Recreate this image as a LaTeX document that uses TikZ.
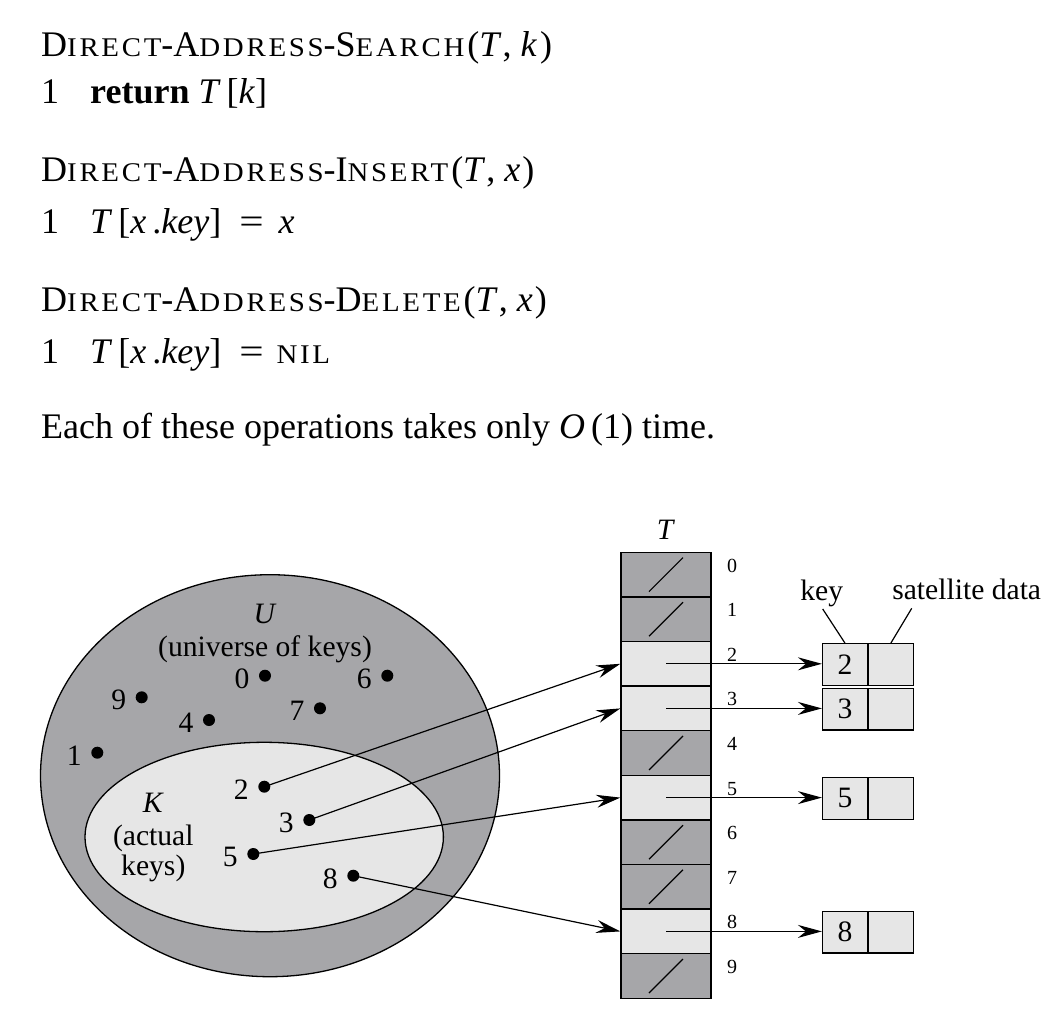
\documentclass[tikz,border=0pt]{standalone}
\usepackage{fontspec}
\setmainfont{Liberation Serif}
\usetikzlibrary{arrows.meta}
\definecolor{dgrey}{RGB}{166,166,169}
\definecolor{lgrey}{RGB}{230,230,230}
\newfontfamily\scfont[FakeStretch=1.07, LetterSpace=10]{Liberation Serif}
\newcommand\smc[1]{{\fontsize{27}{30}\scfont #1}}
\newcommand\bigtext{\fontsize{36}{40}\selectfont}
\newcommand\eqsign{\scalebox{1.2}[1]{=}}
\tikzset{
  txt/.style={anchor=base west, inner sep=0pt, font=\bigtext},
  dtxt/.style={inner sep=0pt, font=\fontsize{29.6}{33}\selectfont},
  idx/.style={anchor=base west, inner sep=0pt, font=\fontsize{20}{22}\selectfont},
  cellbox/.style={draw, line width=1.3pt, minimum width=90pt, minimum height=44.6pt, inner sep=0pt},
  nilcell/.style={cellbox, fill=dgrey},
  usedcell/.style={cellbox, fill=lgrey},
  keybox/.style={draw, line width=1.3pt, fill=lgrey, minimum width=44.7pt, minimum height=41.7pt, inner sep=0pt, font=\fontsize{29.6}{33}\selectfont},
  dot/.style={circle, fill=black, inner sep=0pt, minimum size=12pt},
  arr/.style={line width=1.2pt, -{Stealth[length=24pt, width=13pt, inset=8pt]}},
  thin/.style={line width=1.2pt}
}
\begin{document}
\begin{tikzpicture}[x=1pt, y=-1pt]
\useasboundingbox (0,0) rectangle (1048,1032);
% ---------- pseudocode ----------
\node[txt] (h1) at (41,56.7) {D\smc{IRECT}-A\smc{DDRESS}-S\smc{EARCH}\hspace{3pt}(\textit{T}\hspace{1pt},\hspace{9pt}\textit{k}\hspace{3pt})};
\node[txt] (l1n) at (41,103.5) {1};
\node[txt] (l1) at (90,103.5) {\textbf{return} \textit{T}\,[\textit{k}\/]};
\node[txt] (h2) at (41,182) {D\smc{IRECT}-A\smc{DDRESS}-I\smc{NSERT}\hspace{3pt}(\textit{T}\hspace{1pt},\hspace{9pt}\textit{x}\hspace{2pt})};
\node[txt] (l2n) at (41,233.5) {1};
\node[txt] (l2) at (90,233.5) {\textit{T}\,[\textit{x}\,.\textit{key}]\hspace{18pt}\eqsign\hspace{15pt}\textit{x}};
\node[txt] (h3) at (41,311.5) {D\smc{IRECT}-A\smc{DDRESS}-D\smc{ELETE}\hspace{3pt}(\textit{T}\hspace{1pt},\hspace{9pt}\textit{x}\hspace{2pt})};
\node[txt] (l3n) at (41,363) {1};
\node[txt] (l3) at (90,363) {\textit{T}\,[\textit{x}\,.\textit{key}]\hspace{18pt}\eqsign\hspace{13pt}\smc{NIL}};
\node[txt] (each) at (41,438.5) {Each of these operations takes only \textit{O}\,(1) time.};
% ---------- universe ----------
\draw[line width=1.3pt, fill=dgrey] (270,775.7) ellipse [x radius=229.5, y radius=201];
\draw[line width=1.3pt, fill=lgrey] (264.2,837) ellipse [x radius=179.2, y radius=94.7];
\node[dtxt, anchor=base] (U) at (265,623) {\textit{U}};
\node[dtxt, anchor=base] (Ut) at (265,656) {(universe of keys)};
\node[dtxt, anchor=base] (K) at (153.3,812.7) {\textit{K}};
\node[dtxt, anchor=base] (Kt1) at (153.3,845) {(actual};
\node[dtxt, anchor=base] (Kt2) at (153.3,875) {keys)};
\foreach \n/\x/\y in {0/265/675.7, 6/387.3/675.7, 9/141.7/697.3, 7/320/708.3, 4/209/720, 1/97.3/752.7, 2/264.3/786.7, 3/309.3/820, 5/253.3/854, 8/353.3/875.7}{
  \node[dot] (d\n) at (\x,\y) {};
  \node[dtxt, anchor=base] (dl\n) at (\x-23,\y+12.6) {\n};
}
% ---------- table ----------
\node[dtxt, anchor=base] (Tl) at (666,539) {\textit{T}};
\foreach \i/\s in {0/nilcell,1/nilcell,2/usedcell,3/usedcell,4/nilcell,5/usedcell,6/nilcell,7/nilcell,8/usedcell,9/nilcell}{
  \node[\s] (c\i) at (666,574.6+44.6*\i) {};
  \node[idx] (i\i) at (727,572.1+44.6*\i) {\i};
}
\foreach \i in {0,1,4,6,7,9}{
  \draw[thin] ([shift={(-17,17)}]c\i.center) -- ([shift={(17,-17)}]c\i.center);
}
% ---------- element boxes ----------
\foreach \i in {2,3,5,8}{
  \node[keybox] (k\i) at (844.9,575.3+44.6*\i) {\i};
  \node[keybox, anchor=west] (s\i) at (k\i.east) {};
  \draw[arr] (c\i.center) -- (c\i.center -| k\i.west);
}
\node[dtxt, anchor=base] (keyl) at (821.7,600) {key};
\node[dtxt, anchor=base] (satl) at (966.7,599.3) {satellite data};
\coordinate (kt) at (822.7,609);
\coordinate (st) at (911.7,608.3);
\draw[thin] (kt) -- (k2.north);
\draw[thin] (st) -- (s2.north);
% ---------- key arrows ----------
\foreach \i in {2,3,5,8}{
  \draw[arr] (d\i.center) -- (c\i.west);
}
\end{tikzpicture}
\end{document}
